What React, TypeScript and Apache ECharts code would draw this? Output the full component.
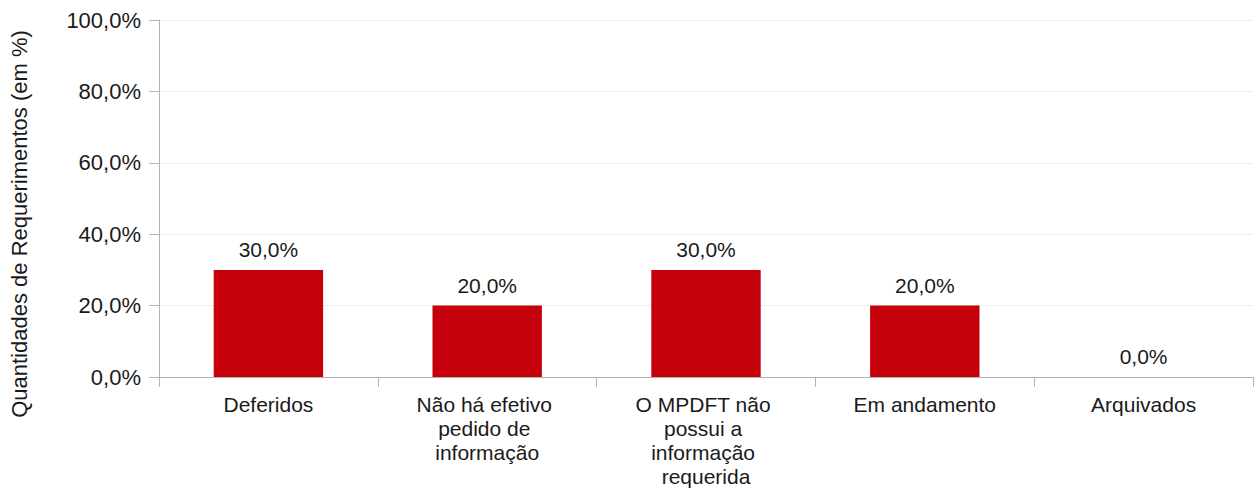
import React, { useEffect, useRef } from "react";
import * as echarts from "echarts";

const categories: string[] = [
  "Deferidos",
  "Não há efetivo pedido de informação",
  "O MPDFT não possui a informação requerida",
  "Em andamento",
  "Arquivados",
];
const values: number[] = [30, 20, 30, 20, 0];
const yTicks: number[] = [0, 20, 40, 60, 80, 100];
const yAxisTitle = "Quantidades de Requerimentos (em %)";

const fmt = (v: number) => v.toFixed(1).replace(".", ",") + "%";

export default function App() {
  const ref = useRef<HTMLDivElement>(null);
  useEffect(() => {
    if (!ref.current) return;
    const chart = echarts.init(ref.current, null, { renderer: "svg" });
    const font = "'Liberation Sans', Arial, sans-serif";
    chart.setOption({
      animation: false,
      textStyle: { fontFamily: font },
      grid: { left: 159, right: 1, top: 20, bottom: 114, containLabel: false },
      xAxis: {
        type: "category",
        data: categories,
        axisLine: { show: true, lineStyle: { color: "#b3b3b3", width: 1 } },
        axisTick: { show: true, length: 10, alignWithLabel: false, lineStyle: { color: "#b3b3b3" } },
        axisLabel: {
          color: "#1a1a1a",
          fontSize: 21,
          fontFamily: font,
          lineHeight: 24,
          margin: 15,
          width: 185,
          overflow: "break",
          interval: 0,
        },
      },
      yAxis: {
        type: "value",
        min: yTicks[0],
        max: yTicks[yTicks.length - 1],
        interval: 20,
        axisLine: { show: true, lineStyle: { color: "#b3b3b3", width: 1 } },
        axisTick: { show: true, length: 10, lineStyle: { color: "#b3b3b3" } },
        splitLine: { show: true, lineStyle: { color: "#eeeeee" } },
        axisLabel: {
          color: "#1a1a1a",
          fontSize: 22,
          fontFamily: font,
          margin: 18,
          formatter: (v: number) => fmt(v),
        },
      },
      graphic: [
        {
          type: "text",
          x: 19,
          y: 224,
          rotation: Math.PI / 2,
          style: {
            text: yAxisTitle,
            fill: "#1a1a1a",
            fontSize: 22,
            fontFamily: font,
            align: "center",
            verticalAlign: "middle",
          },
        },
      ],
      series: [
        {
          type: "bar",
          data: values,
          barWidth: "50%",
          itemStyle: { color: "#c5000b" },
          label: {
            show: true,
            position: "top",
            distance: 10,
            color: "#1a1a1a",
            fontSize: 21,
            fontFamily: font,
            formatter: (p: any) => fmt(p.value),
          },
        },
      ],
    });
    return () => chart.dispose();
  }, []);
  return <div ref={ref} style={{ width: 1254, height: 491, position: "absolute", left: 0, top: 0 }} />;
}
